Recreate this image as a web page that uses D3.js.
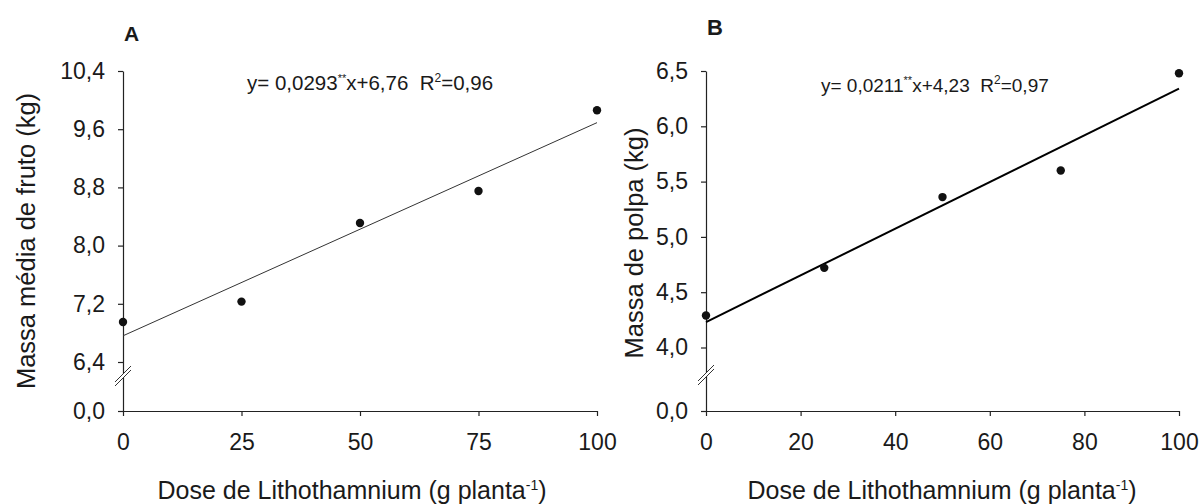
<!DOCTYPE html>
<html lang="pt">

<head>
    <meta charset="UTF-8">
    <title>Massa de fruto e polpa x Lithothamnium</title>
    <style>
        * {
            margin: 0;
            padding: 0;
        }

        body {
            background: #fff;
        }

        svg text {
            font-family: "Liberation Sans", Arial, sans-serif;
            fill: #1a1a1a;
            white-space: pre;
        }
    </style>
</head>

<body>
    <div id="chart"></div>
    <script src="https://cdn.jsdelivr.net/npm/d3@7"></script>
    <script>
        // dados
        const doses = [0, 25, 50, 75, 100]
        const massaFruto = [6.95, 7.23, 8.31, 8.75, 9.86]
        const massaPolpa = [4.29, 4.72, 5.36, 5.60, 6.48]

        const ticksXA = [0, 25, 50, 75, 100]
        const ticksXB = [0, 20, 40, 60, 80, 100]
        const ticksYA = [0, 6.4, 7.2, 8.0, 8.8, 9.6, 10.4]
        const ticksYB = [0, 4.0, 4.5, 5.0, 5.5, 6.0, 6.5]

        // coeficientes da regressão [inclinação, intercepto]
        const regA = [0.0293, 6.76]
        const regB = [0.0211, 4.23]

        const width = 1202
        const height = 504

        const svg = d3.select('#chart')
            .append('svg')
            .attr('width', width)
            .attr('height', height)
            .style('background', '#fff')

        const fmt = d => d3.format('.1f')(d).replace('.', ',')
        const fmt4 = d => d3.format('.4f')(d).replace('.', ',')
        const fmt2 = d => d3.format('.2f')(d).replace('.', ',')

        function drawPanel(p) {
            const x = d3.scaleLinear()
                .domain([0, 100])
                .range(p.xRange)

            // escala com quebra: 0 até o primeiro valor comprimido
            const y = d3.scaleLinear()
                .domain([0, p.ticksY[1], p.ticksY[p.ticksY.length - 1]])
                .range(p.yRange)

            const g = svg.append('g')

            // eixo x
            g.append('g')
                .attr('transform', `translate(0, ${p.yRange[0]})`)
                .call(d3.axisBottom(x).tickValues(p.ticksX).tickSize(5).tickSizeOuter(0).tickPadding(18))
            // eixo y
            g.append('g')
                .attr('transform', `translate(${p.xRange[0]}, 0)`)
                .call(d3.axisLeft(y).tickValues(p.ticksY).tickSize(5).tickSizeOuter(0).tickPadding(13).tickFormat(fmt))

            g.selectAll('.domain, .tick line')
                .attr('stroke', '#222')
                .attr('stroke-width', 1.2)
            g.selectAll('.tick text')
                .style('font-size', p.tickSize + 'px')

            // marca de quebra do eixo y
            const bx = p.xRange[0]
            const by = p.breakY
            g.append('polygon')
                .attr('points', `${bx - 7},${by + 7} ${bx + 7},${by - 7} ${bx + 7},${by - 3} ${bx - 7},${by + 11}`)
                .attr('fill', '#fff')
            g.selectAll('line.break')
                .data([0, 4])
                .join('line')
                .attr('class', 'break')
                .attr('x1', bx - 8)
                .attr('y1', d => by + 8 + d)
                .attr('x2', bx + 8)
                .attr('y2', d => by - 8 + d)
                .attr('stroke', '#333')
                .attr('stroke-width', 1)

            // reta de regressão
            g.append('line')
                .attr('x1', x(0))
                .attr('y1', y(p.reg[1]))
                .attr('x2', x(100))
                .attr('y2', y(p.reg[0] * 100 + p.reg[1]))
                .attr('stroke', p.lineColor)
                .attr('stroke-width', p.lineWidth)

            // pontos
            g.selectAll('circle')
                .data(p.values)
                .join('circle')
                .attr('cx', (d, i) => x(doses[i]))
                .attr('cy', d => y(d))
                .attr('r', 4.2)
                .attr('fill', '#111')

            // equação
            const eq = g.append('text')
                .attr('x', p.eqX)
                .attr('y', p.eqY)
                .style('font-size', p.eqSize + 'px')
            eq.append('tspan').text(`y= ${fmt4(p.reg[0])}`)
            eq.append('tspan').text('**').attr('dy', -8).style('font-size', '11px')
            eq.append('tspan').text(`x+${fmt2(p.reg[1])}  R`).attr('dy', 8)
            eq.append('tspan').text('2').attr('dy', -8).style('font-size', '12px')
            eq.append('tspan').text(`=${p.r2}`).attr('dy', 8)

            // títulos dos eixos
            const xt = g.append('text')
                .attr('x', p.xTitleX)
                .attr('y', 499)
                .attr('text-anchor', 'middle')
                .style('font-size', p.titleSize + 'px')
            xt.append('tspan').text('Dose de Lithothamnium (g planta')
            xt.append('tspan').text('-1').attr('dy', -9).style('font-size', '14px')
            xt.append('tspan').text(')').attr('dy', 9)

            g.append('text')
                .attr('transform', `translate(${p.yTitleX}, ${p.yTitleY}) rotate(-90)`)
                .attr('text-anchor', 'middle')
                .style('font-size', p.yTitleSize + 'px')
                .text(p.yTitle)

            // letra do painel
            g.append('text')
                .attr('x', p.letterX)
                .attr('y', p.letterY)
                .style('font-size', p.letterSize + 'px')
                .style('font-weight', 700)
                .text(p.letter)
        }

        drawPanel({
            letter: 'A', letterX: 124, letterY: 41, letterSize: 21,
            values: massaFruto,
            ticksX: ticksXA, ticksY: ticksYA,
            xRange: [123, 597], yRange: [411, 362, 71],
            breakY: 374,
            reg: regA, r2: '0,96',
            lineColor: '#333', lineWidth: 1,
            eqX: 247, eqY: 90, eqSize: 20.5,
            tickSize: 23, titleSize: 25, xTitleX: 352,
            yTitle: 'Massa média de fruto (kg)', yTitleX: 35, yTitleY: 241, yTitleSize: 25.5
        })

        drawPanel({
            letter: 'B', letterX: 707, letterY: 35, letterSize: 22,
            values: massaPolpa,
            ticksX: ticksXB, ticksY: ticksYB,
            xRange: [706, 1179], yRange: [411, 347.5, 71],
            breakY: 373,
            reg: regB, r2: '0,97',
            lineColor: '#000', lineWidth: 2,
            eqX: 821, eqY: 92, eqSize: 19,
            tickSize: 23, titleSize: 25, xTitleX: 942,
            yTitle: 'Massa de polpa (kg)', yTitleX: 643, yTitleY: 243, yTitleSize: 25.5
        })
    </script>
</body>

</html>
